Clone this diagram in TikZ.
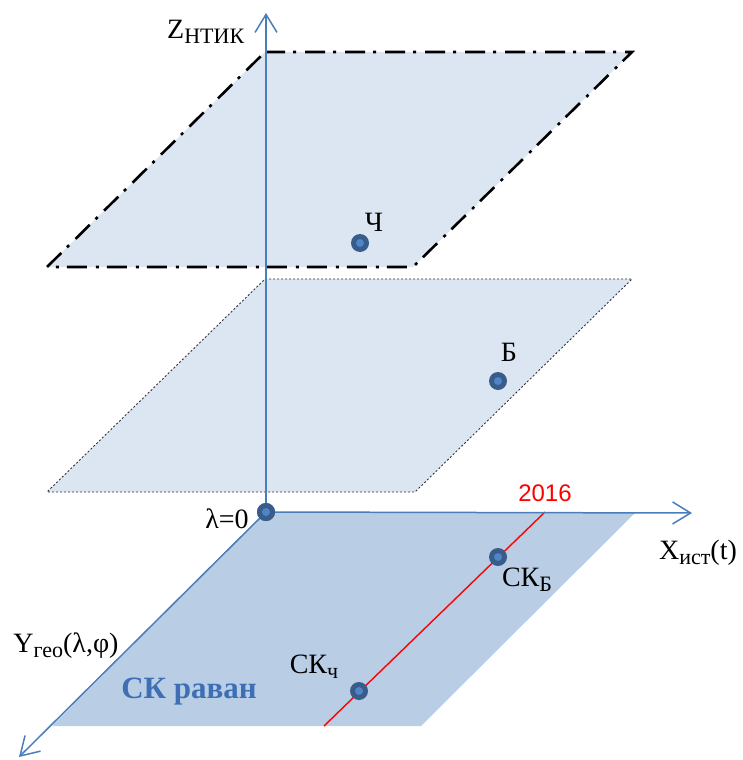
\documentclass[tikz,border=0pt]{standalone}
\usepackage{fontspec}
\setmainfont{Liberation Serif}
\newfontfamily\sansf{Liberation Sans}
\usetikzlibrary{arrows.meta}
\definecolor{planelight}{RGB}{220,230,242}
\definecolor{planedark}{RGB}{185,205,229}
\definecolor{axisblue}{RGB}{74,126,187}
\definecolor{dotdark}{RGB}{56,93,138}
\definecolor{dotlight}{RGB}{80,132,196}
\definecolor{wordart}{RGB}{62,110,180}
\newcommand\lsub[1]{\raisebox{-0.18em}{\fontsize{22pt}{22pt}\selectfont #1}}
\tikzset{
  lbl/.style={inner sep=0pt, font=\fontsize{28pt}{32pt}\selectfont},
  dotnode/.style={circle, fill=dotdark, minimum size=18pt, inner sep=0pt,
    path picture={\fill[dotlight] (path picture bounding box.center) circle (4pt);}},
  axisline/.style={draw=axisblue, line width=1.5pt, -{Straight Barb[length=18pt,width=22pt]}},
  dashdotedge/.style={draw=black, line width=2.6pt, dash pattern=on 20pt off 8pt on 3pt off 9pt},
  dottededge/.style={draw=black!80, line width=0.9pt, dash pattern=on 2pt off 2pt},
}
\begin{document}
\begin{tikzpicture}[x=1pt,y=-1pt]
\useasboundingbox (0,0) rectangle (742,760);
% middle plane
\path[fill=planelight, dottededge] (265,279) -- (632,279) -- (415,492) -- (47,492) -- cycle;
% top plane
\path[fill=planelight, dashdotedge] (265,52) -- (632,52) -- (413,267) -- (47,267) -- cycle;
% bottom plane
\fill[planedark] (265,512) -- (636,512) -- (421,726) -- (52,726) -- cycle;
% red line
\coordinate (r1) at (545,512);
\coordinate (r2) at (324,726);
\draw[red, line width=1.4pt] (r1) -- (r2);
% axes
\node[dotnode] (O) at (266,512) {};
\coordinate (zt) at (266,13);
\coordinate (xt) at (692,513);
\coordinate (yt) at (19,757);
\draw[axisline] (O.center) -- (zt);
\draw[axisline] (O.center) -- (xt);
\draw[axisline] (O.center) -- (yt);
\node[dotnode] (O2) at (266,512) {};
% dots
\node[dotnode] (ch) at (360,243) {};
\node[dotnode] (b) at (498,381) {};
\node[dotnode] (skb) at (498,557) {};
\node[dotnode] (skch) at (359,691) {};
% labels
\node[lbl, anchor=base west] (zl) at (167,38) {Z\lsub{НТИК}};
\node[lbl] (chl) at (374,222) {Ч};
\node[lbl] (bl) at (509,352) {Б};
\node[lbl] (lam) at (227,519) {λ=0};
\node[inner sep=0pt, text=red, font=\sansf\fontsize{24pt}{28pt}\selectfont] (yr) at (545,493) {2016};
\node[lbl] (xl) at (698,553) {X\lsub{ист}(t)};
\node[lbl] (skbl) at (527,580) {СК\lsub{Б}};
\node[lbl] (yl) at (66,646) {Y\lsub{гео}(λ,φ)};
\node[lbl] (skchl) at (314,667) {СК\lsub{ч}};
\node[inner sep=0pt, text=wordart, font=\bfseries\fontsize{31pt}{35pt}\selectfont] (skr) at (189,692) {СК раван};
\end{tikzpicture}
\end{document}
